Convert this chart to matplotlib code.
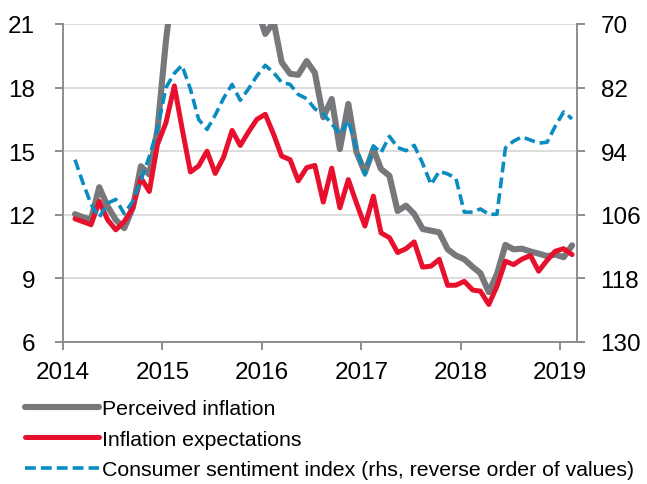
import numpy as np
import pandas as pd
import matplotlib
matplotlib.use('Agg')
import matplotlib.pyplot as plt
import matplotlib.dates as mdates

plt.rcParams['font.family'] = ['Liberation Sans', 'DejaVu Sans']

# monthly observations, Feb 2014 - Feb 2019
dates = pd.date_range('2014-02-01', periods=61, freq='MS') + pd.Timedelta(days=13)

perceived = [12.03, 11.89, 11.78, 13.3, 12.39, 11.76, 11.37, 12.32, 14.29, 13.9,
             16.03, 20.2, 23.5, 26.0, 26.5, 26.0, 25.5, 25.0, 24.5, 24.0,
             23.5, 23.0, 21.8, 20.53, 21.1, 19.2, 18.65, 18.6, 19.25, 18.7,
             16.6, 17.46, 15.1, 17.23, 14.95, 14.0, 15.1, 14.16, 13.84, 12.18,
             12.43, 12.04, 11.33, 11.25, 11.17, 10.37, 10.08, 9.9, 9.54, 9.25,
             8.35, 9.2, 10.58, 10.37, 10.4, 10.27, 10.17, 10.05, 10.12, 10.0,
             10.56]

expectations = [11.81, 11.68, 11.53, 12.63, 11.76, 11.29, 11.68, 12.32, 13.74, 13.1,
                15.32, 16.34, 18.08, 16.1, 14.02, 14.3, 15.0, 13.95, 14.72, 15.98,
                15.27, 15.92, 16.5, 16.74, 15.78, 14.77, 14.6, 13.6, 14.22, 14.33,
                12.6, 14.2, 12.33, 13.66, 12.55, 11.47, 12.88, 11.15, 10.92, 10.22,
                10.4, 10.72, 9.53, 9.58, 9.9, 8.67, 8.68, 8.86, 8.45, 8.4,
                7.77, 8.63, 9.81, 9.65, 9.91, 10.08, 9.34, 9.85, 10.28, 10.4,
                10.12]

sentiment = [95.6, 99.8, 104.0, 106.5, 103.8, 103.1, 105.8, 103.5, 99.5, 95.0,
             89.9, 82.0, 79.3, 77.8, 82.3, 88.0, 89.9, 87.2, 84.0, 81.4,
             84.4, 82.2, 79.8, 77.8, 79.2, 81.0, 81.4, 83.3, 84.1, 86.0,
             87.0, 88.8, 90.8, 88.2, 93.5, 98.5, 93.0, 94.3, 91.2, 93.3,
             93.9, 92.9, 96.3, 100.3, 97.8, 98.3, 99.1, 105.5, 105.5, 104.9,
             105.9, 105.9, 93.4, 92.1, 91.3, 91.9, 92.5, 92.3, 89.3, 86.6,
             87.9]

labels = ['Perceived inflation', 'Inflation expectations',
          'Consumer sentiment index (rhs, reverse order of values)']

axis_grey = '#8c8c8c'

fig = plt.figure(figsize=(6.47, 4.85), dpi=100)
ax = fig.add_axes([0.0974, 0.2928, 0.7944, 0.6557])
ax2 = ax.twinx()

l1, = ax.plot(dates, perceived, color='#77787b', lw=4.4, solid_joinstyle='round',
              solid_capstyle='round', label=labels[0])
l2, = ax.plot(dates, expectations, color='#e8112d', lw=3.6, solid_joinstyle='round',
              solid_capstyle='round', label=labels[1])
l3, = ax2.plot(dates, sentiment, color='#0a8cc1', lw=2.6, dashes=(3.0, 1.4),
               label=labels[2])

ax.set_ylim(6, 21)
ax.set_yticks(np.arange(6, 22, 3))
ax2.set_ylim(130, 70)
ax2.set_yticks(np.arange(70, 131, 12))
ax.set_xlim(pd.Timestamp('2014-01-01'), pd.Timestamp('2019-03-04'))
ax.xaxis.set_major_locator(mdates.YearLocator())
ax.xaxis.set_major_formatter(mdates.DateFormatter('%Y'))

ax.grid(axis='y', color='#d9d9d9', lw=1.3)
ax.set_axisbelow(True)

for a in (ax, ax2):
    a.spines['top'].set_visible(False)
    for s in ('left', 'right', 'bottom'):
        a.spines[s].set_color(axis_grey)
        a.spines[s].set_linewidth(1.4)
ax.spines['right'].set_visible(False)
ax2.spines['left'].set_visible(False)
ax2.spines['bottom'].set_visible(False)

ax.tick_params(axis='y', direction='out', length=6, width=1.4, color=axis_grey,
               labelsize=17.5, pad=14)
ax.tick_params(axis='x', direction='out', length=6, width=1.4, color=axis_grey,
               labelsize=17.5, pad=8)
ax2.tick_params(axis='y', direction='out', length=6, width=1.4, color=axis_grey,
                labelsize=17.5, pad=11)

fig.legend(handles=[l1, l2, l3], loc='upper left', bbox_to_anchor=(0.038, 0.175),
           frameon=False, fontsize=15.3, handlelength=3.5, handletextpad=0.15,
           labelspacing=0.55, borderpad=0, borderaxespad=0)

fig.savefig('out.png', dpi=100)
